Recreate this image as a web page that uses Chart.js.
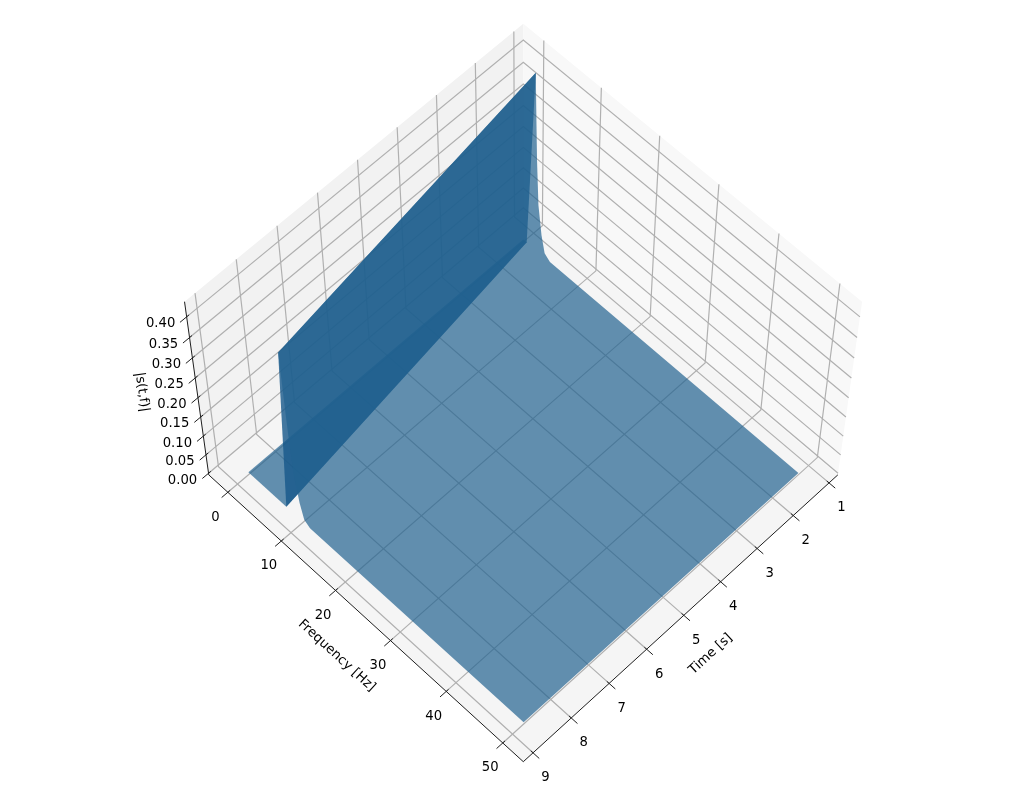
<!DOCTYPE html>
<html>
<head>
  <meta charset="UTF-8">
  <title>|s(t,f)| surface</title>
  <script src="https://cdn.jsdelivr.net/npm/chart.js"></script>
  <style>
    html, body { margin: 0; padding: 0; background: #fff; }
    canvas { display: block; }
  </style>
</head>
<body>
  <canvas id="chart" width="1024" height="803"></canvas>

  <script>
    // values
    const freqTicks = [0, 10, 20, 30, 40, 50];
    const timeTicks = [1, 2, 3, 4, 5, 6, 7, 8, 9];
    const ampTicks = [0, 0.05, 0.10, 0.15, 0.20, 0.25, 0.30, 0.35, 0.40];
    const ampLabels = ["0.00", "0.05", "0.10", "0.15", "0.20", "0.25", "0.30", "0.35", "0.40"];

    // the surface: one profile at the first time, one at the last (the ridge drifts with time)
    const surfaceTimes = [1.29, 8.71];
    const freqFirst = [0, 0.65, 2.2, 2.35, 2.5, 2.8, 3.4, 4.0, 5, 50];
    const freqLast = [0, 7.1, 8.7, 8.85, 9.0, 9.3, 9.9, 10.5, 11.5, 50];
    const ampFirst = [0.002, 0.002, 0.425, 0.32, 0.225, 0.12, 0.052, 0.013, 0.002, 0.001];
    const ampLast = [0.002, 0.002, 0.42, 0.31, 0.22, 0.118, 0.05, 0.012, 0.002, 0.001];

    // box limits and camera (elev 60, azim 45)
    const freqLim = [-3.6, 53.6];
    const timeLim = [0.753, 9.253];
    const ampLim = [-0.0044, 0.436];
    const side = 1.143, high = 0.857, dist = 10, focal = 4036, cx = 523.3, cy = 391.5;
    const elev = 60 * Math.PI / 180;

    function boxPoint(fx, fy, fz) {
      const x = (fx - 0.5) * side, y = (fy - 0.5) * side, z = (fz - 0.5) * high;
      const s = Math.sin(elev), c = Math.cos(elev), r = Math.SQRT1_2;
      const depth = dist - ((x + y) * c * r + z * s);
      return {
        x: cx + (x - y) * r * focal / depth,
        y: cy - (-(x + y) * s * r + z * c) * focal / depth
      };
    }
    const fracF = f => (f - freqLim[0]) / (freqLim[1] - freqLim[0]);
    const fracT = t => (t - timeLim[0]) / (timeLim[1] - timeLim[0]);
    const fracA = a => (a - ampLim[0]) / (ampLim[1] - ampLim[0]);
    const dataPoint = (f, t, a) => boxPoint(fracF(f), fracT(t), fracA(a));

    const datasets = [];
    function add(points, opts) {
      datasets.push(Object.assign({
        data: points, showLine: true, pointRadius: 0, borderWidth: 0, fill: false,
        order: -datasets.length, tension: 0
      }, opts));
    }
    function addFace(points, color) {
      add(points.concat([points[0]]), { fill: "shape", backgroundColor: color, borderColor: "transparent" });
    }
    function addLine(points, color, width) {
      add(points, { borderColor: color, borderWidth: width });
    }
    // one polygon for a run of the profile, out along the first time and back along the last
    function addStrip(from, to, color) {
      const pts = [];
      for (let i = from; i <= to; i++) pts.push(dataPoint(freqFirst[i], surfaceTimes[0], ampFirst[i]));
      for (let i = to; i >= from; i--) pts.push(dataPoint(freqLast[i], surfaceTimes[1], ampLast[i]));
      addFace(pts, color);
    }

    // panes
    addFace([boxPoint(0, 0, 0), boxPoint(0, 1, 0), boxPoint(0, 1, 1), boxPoint(0, 0, 1)], "rgb(242,242,242)");
    addFace([boxPoint(0, 0, 0), boxPoint(1, 0, 0), boxPoint(1, 0, 1), boxPoint(0, 0, 1)], "rgb(248,248,248)");
    addFace([boxPoint(0, 0, 0), boxPoint(1, 0, 0), boxPoint(1, 1, 0), boxPoint(0, 1, 0)], "rgb(245,245,245)");

    // grid
    const gridColor = "rgb(176,176,176)";
    freqTicks.forEach(f => addLine([boxPoint(fracF(f), 1, 0), boxPoint(fracF(f), 0, 0), boxPoint(fracF(f), 0, 1)], gridColor, 1.2));
    timeTicks.forEach(t => addLine([boxPoint(1, fracT(t), 0), boxPoint(0, fracT(t), 0), boxPoint(0, fracT(t), 1)], gridColor, 1.2));
    ampTicks.forEach(a => addLine([boxPoint(0, 1, fracA(a)), boxPoint(0, 0, fracA(a)), boxPoint(1, 0, fracA(a))], gridColor, 1.2));

    // surface, far side first
    addStrip(0, 1, "rgba(34,98,144,0.7)");
    addStrip(1, 2, "rgba(22,88,138,0.8)");
    addStrip(2, 9, "rgba(34,98,144,0.7)");

    // axis lines and tick marks
    const axisColor = "rgb(30,30,30)";
    addLine([boxPoint(0, 1, 0), boxPoint(1, 1, 0)], axisColor, 1);
    addLine([boxPoint(1, 0, 0), boxPoint(1, 1, 0)], axisColor, 1);
    addLine([boxPoint(0, 1, 0), boxPoint(0, 1, 1)], axisColor, 1);
    freqTicks.forEach(f => addLine([boxPoint(fracF(f), 1.019, 0), boxPoint(fracF(f), 0.993, 0)], axisColor, 1));
    timeTicks.forEach(t => addLine([boxPoint(1.019, fracT(t), 0), boxPoint(0.993, fracT(t), 0)], axisColor, 1));
    ampTicks.forEach(a => addLine([boxPoint(0, 1.019, fracA(a)), boxPoint(0, 0.993, fracA(a))], axisColor, 1));

    // tick labels and axis titles as text
    const textPlugin = {
      id: "boxText",
      afterDraw(chart) {
        const ctx = chart.ctx, sx = chart.scales.x, sy = chart.scales.y;
        function put(text, p, dx, dy, angle) {
          ctx.save();
          ctx.translate(sx.getPixelForValue(p.x) + dx, sy.getPixelForValue(p.y) + dy);
          ctx.rotate((angle || 0) * Math.PI / 180);
          ctx.font = "13.2px 'DejaVu Sans'";
          ctx.fillStyle = "#000";
          ctx.textAlign = "center";
          ctx.textBaseline = "middle";
          ctx.fillText(text, 0, 0);
          ctx.restore();
        }
        freqTicks.forEach(f => put(String(f), boxPoint(fracF(f), 1, 0), -12.5, 25));
        timeTicks.forEach(t => put(String(t), boxPoint(1, fracT(t), 0), 12.5, 25));
        ampTicks.forEach((a, i) => put(ampLabels[i], boxPoint(0, 1, fracA(a)), -26, 7));
        put("Frequency [Hz]", { x: 336.7, y: 655.7 }, 0, 0, 42.5);
        put("Time [s]", { x: 710.7, y: 654 }, 0, 0, -42.5);
        put("|s(t,f)|", { x: 142, y: 392 }, 0, 0, 81.7);
      }
    };

    new Chart(document.getElementById("chart").getContext("2d"), {
      type: "scatter",
      data: { datasets: datasets },
      options: {
        responsive: false,
        animation: false,
        layout: { padding: 0 },
        plugins: { legend: { display: false }, tooltip: { enabled: false } },
        scales: {
          x: { type: "linear", min: 0, max: 1024, display: false },
          y: { type: "linear", min: 0, max: 803, reverse: true, display: false }
        }
      },
      plugins: [textPlugin]
    });
  </script>
</body>
</html>
